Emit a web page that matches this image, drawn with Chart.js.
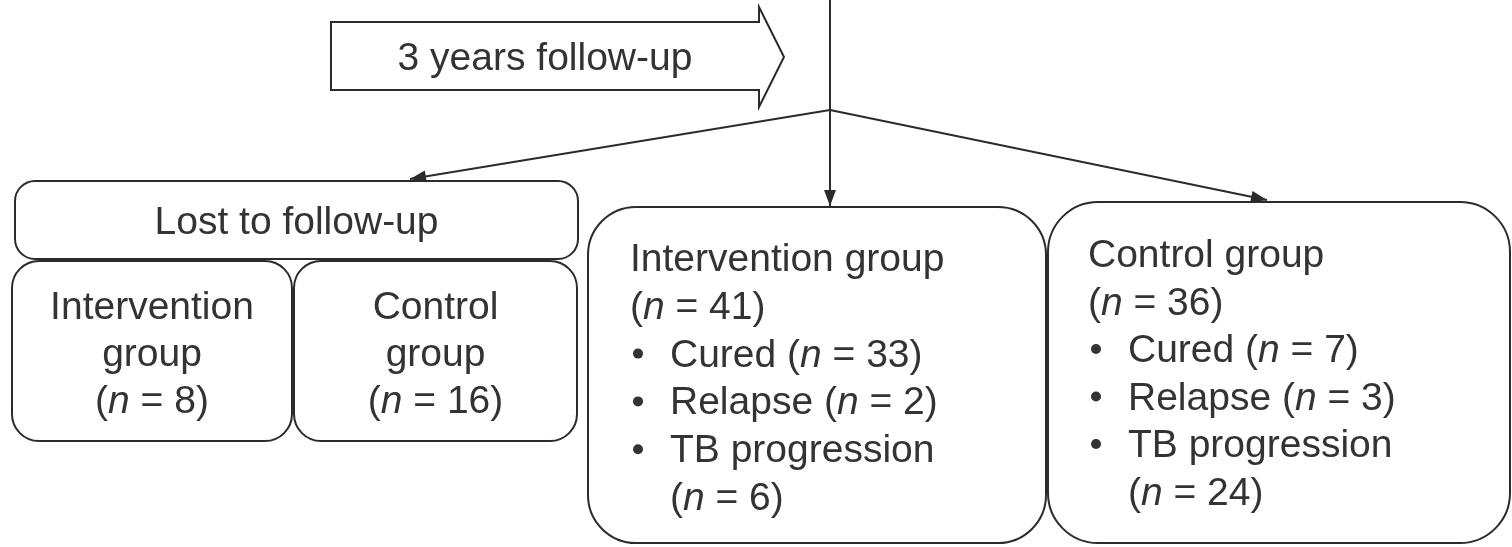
<!DOCTYPE html>
<html>
<head>
<meta charset="utf-8">
<script src="https://cdn.jsdelivr.net/npm/chart.js@4"></script>
<style>
  body { margin: 0; background: #fff; }
  canvas { display: block; }
</style>
</head>
<body>
<canvas id="grafico" width="1512" height="547"></canvas>
<script>
// datos del diagrama
const followUpLabel = "3 years follow-up";
const lostLabel = "Lost to follow-up";
const groups = ["Intervention group", "Control group"];
const lostToFollowUp = [8, 16];
const analysed = [41, 36];
const cured = [33, 7];
const relapse = [2, 3];
const tbProgression = [6, 24];

// posiciones (unidades de la escala, 0..1512 x 0..547)
const flecha = [[331, 22], [759, 22], [759, 7], [784, 57], [759, 107], [759, 90], [331, 90]];
const cajaPerdidos = { x1: 15, y1: 181, x2: 578, y2: 259, r: 20 };
const cajasPerdidos = [
    { x1: 12, y1: 261, x2: 292, y2: 441, r: 27, base: 319, paso: 47 },
    { x1: 294, y1: 261, x2: 577, y2: 441, r: 27, base: 319, paso: 47 }
];
const cajasGrupos = [
    { x1: 588, y1: 207, x2: 1046, y2: 543, r: 48, texto: 630, base: 271, paso: 47.8 },
    { x1: 1048, y1: 202, x2: 1510, y2: 543, r: 50, texto: 1088, base: 267, paso: 47.5 }
];
const tronco = { x: 830, y0: 0, y1: 110 };
const destinos = [[410, 179], [830, 206], [1267, 200]];

const COLOR = "#2b2b2b";
const TEXTO = "#333";
const FUENTE = "'Liberation Sans', Arial, sans-serif";
const TAM = 39;

function rectRedondo(c, x1, y1, x2, y2, r) {
    c.beginPath();
    c.moveTo(x1 + r, y1);
    c.arcTo(x2, y1, x2, y2, r);
    c.arcTo(x2, y2, x1, y2, r);
    c.arcTo(x1, y2, x1, y1, r);
    c.arcTo(x1, y1, x2, y1, r);
    c.closePath();
    c.stroke();
}

// texto con *n* en cursiva
function textoRico(c, str, x, y, align) {
    const partes = str.split(/(\*[^*]+\*)/).filter(p => p.length);
    const seg = partes.map(p => {
        const it = p.startsWith("*");
        return { t: it ? p.slice(1, -1) : p, f: (it ? "italic " : "") + TAM + "px " + FUENTE };
    });
    let total = 0;
    seg.forEach(s => { c.font = s.f; s.w = c.measureText(s.t).width; total += s.w; });
    let cx = align === "center" ? x - total / 2 : x;
    c.textAlign = "left";
    c.textBaseline = "alphabetic";
    c.fillStyle = TEXTO;
    seg.forEach(s => { c.font = s.f; c.fillText(s.t, cx, y); cx += s.w; });
}

function punta(c, x0, y0, x1, y1) {
    const ang = Math.atan2(y1 - y0, x1 - x0);
    const largo = 16, ancho = 6;
    c.beginPath();
    c.moveTo(x1, y1);
    c.lineTo(x1 - largo * Math.cos(ang) + ancho * Math.sin(ang), y1 - largo * Math.sin(ang) - ancho * Math.cos(ang));
    c.lineTo(x1 - largo * Math.cos(ang) - ancho * Math.sin(ang), y1 - largo * Math.sin(ang) + ancho * Math.cos(ang));
    c.closePath();
    c.fill();
}

const diagrama = {
    id: "diagrama",
    beforeDraw(chart) {
        const c = chart.ctx;
        c.save();
        c.fillStyle = "#fff";
        c.fillRect(0, 0, chart.width, chart.height);
        c.restore();
    },
    afterDraw(chart) {
        const c = chart.ctx;
        const sx = v => chart.scales.x.getPixelForValue(v);
        const sy = v => chart.scales.y.getPixelForValue(v);
        c.save();
        c.strokeStyle = COLOR;
        c.fillStyle = COLOR;
        c.lineWidth = 2;
        c.lineJoin = "miter";

        // flecha "3 years follow-up"
        c.beginPath();
        flecha.forEach((p, i) => i ? c.lineTo(sx(p[0]), sy(p[1])) : c.moveTo(sx(p[0]), sy(p[1])));
        c.closePath();
        c.stroke();
        textoRico(c, followUpLabel, sx((flecha[0][0] + flecha[1][0]) / 2), sy(70), "center");

        // tronco y ramas
        c.strokeStyle = COLOR;
        c.beginPath();
        c.moveTo(sx(tronco.x), sy(tronco.y0));
        c.lineTo(sx(tronco.x), sy(tronco.y1));
        c.stroke();
        destinos.forEach(d => {
            c.beginPath();
            c.moveTo(sx(tronco.x), sy(tronco.y1));
            c.lineTo(sx(d[0]), sy(d[1]));
            c.stroke();
            c.fillStyle = COLOR;
            punta(c, sx(tronco.x), sy(tronco.y1), sx(d[0]), sy(d[1]));
        });

        // perdidos en el seguimiento
        const b = cajaPerdidos;
        c.strokeStyle = COLOR;
        rectRedondo(c, sx(b.x1), sy(b.y1), sx(b.x2), sy(b.y2), b.r);
        textoRico(c, lostLabel, sx((b.x1 + b.x2) / 2), sy(234), "center");

        cajasPerdidos.forEach((k, i) => {
            c.strokeStyle = COLOR;
            rectRedondo(c, sx(k.x1), sy(k.y1), sx(k.x2), sy(k.y2), k.r);
            const palabras = groups[i].split(" ");
            const lineas = [palabras[0], palabras[1], "(*n* = " + lostToFollowUp[i] + ")"];
            lineas.forEach((l, j) => textoRico(c, l, sx((k.x1 + k.x2) / 2), sy(k.base + j * k.paso), "center"));
        });

        // grupos analizados
        cajasGrupos.forEach((k, i) => {
            c.strokeStyle = COLOR;
            rectRedondo(c, sx(k.x1), sy(k.y1), sx(k.x2), sy(k.y2), k.r);
            const x = sx(k.texto);
            textoRico(c, groups[i], x, sy(k.base), "left");
            textoRico(c, "(*n* = " + analysed[i] + ")", x, sy(k.base + k.paso), "left");
            const items = [
                ["Cured (*n* = " + cured[i] + ")"],
                ["Relapse (*n* = " + relapse[i] + ")"],
                ["TB progression", "(*n* = " + tbProgression[i] + ")"]
            ];
            let fila = 2;
            items.forEach(it => {
                const yb = sy(k.base + fila * k.paso);
                c.fillStyle = TEXTO;
                c.beginPath();
                c.arc(x + 8, yb - 13, 5, 0, Math.PI * 2);
                c.fill();
                it.forEach(l => {
                    textoRico(c, l, x + 40, sy(k.base + fila * k.paso), "left");
                    fila++;
                });
            });
        });
        c.restore();
    }
};

new Chart(document.getElementById("grafico").getContext("2d"), {
    type: "scatter",
    data: { datasets: [{ data: [], pointRadius: 0 }] },
    options: {
        responsive: false,
        animation: false,
        layout: { padding: 0 },
        plugins: { legend: { display: false }, tooltip: { enabled: false } },
        scales: {
            x: { type: "linear", min: 0, max: 1512, display: false },
            y: { type: "linear", min: 0, max: 547, reverse: true, display: false }
        }
    },
    plugins: [diagrama]
});
</script>
</body>
</html>
